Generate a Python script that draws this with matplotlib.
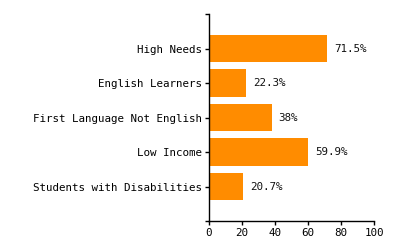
import matplotlib
matplotlib.use("Agg")
from matplotlib import pyplot as plt
import numpy as np

# Data
categories = ["High Needs", "English Learners", "First Language Not English",
              "Low Income", "Students with Disabilities"]
values = [71.5, 22.3, 38, 59.9, 20.7]
value_labels = ["71.5%", "22.3%", "38%", "59.9%", "20.7%"]
x_ticks = [0, 20, 40, 60, 80, 100]

plt.rcParams["font.family"] = ["DejaVu Sans Mono"]
plt.rcParams["font.size"] = 7.8

fig = plt.figure(figsize=(4, 2.5), dpi=100)
ax = fig.add_axes([0.5225, 0.116, 0.4125, 0.828])

pos = np.arange(len(categories))
ax.barh(pos, values, height=0.8, color="#ff8c00")

for p, v, lab in zip(pos, values, value_labels):
    ax.annotate(lab, (v, p), xytext=(5, 0), textcoords="offset points",
                va="center", ha="left", fontsize=7.8, color="#111111")

ax.set_xlim(0, 100)
ax.set_ylim(5, -1)
ax.set_xticks(x_ticks)
ax.set_yticks(pos)
ax.set_yticklabels(categories)
ax.set_yticks([-1, 5], minor=True)

for s in ["top", "right"]:
    ax.spines[s].set_visible(False)
for s in ["left", "bottom"]:
    ax.spines[s].set_linewidth(1.0)
    ax.spines[s].set_color("black")

ax.tick_params(axis="both", which="both", length=3, width=1.0, pad=2,
               colors="black", labelsize=7.8)
ax.tick_params(axis="y", which="minor", length=3)

fig.savefig("out.png", dpi=100)
